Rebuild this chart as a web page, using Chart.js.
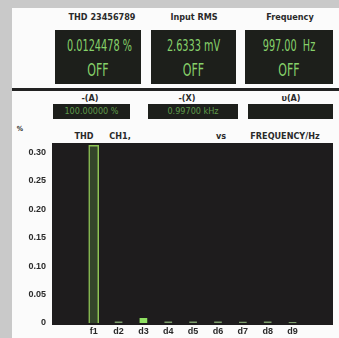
<!DOCTYPE html>
<html>
<head>
<meta charset="utf-8">
<script src="https://cdn.jsdelivr.net/npm/chart.js@4"></script>
<style>
  html, body { margin: 0; padding: 0; }
  body { width: 339px; height: 338px; background: #c9c9c9; position: relative; overflow: hidden;
         font-family: "DejaVu Sans Condensed", "DejaVu Sans", sans-serif; font-stretch: condensed; }
  #panel { position: absolute; left: 12px; top: 8px; width: 327px; height: 330px; background: #fbfbfb; }
  .t { position: absolute; font-size: 9px; font-weight: bold; color: #2a2a2a; white-space: nowrap; transform: translateX(-50%); }
  .box { position: absolute; background: #1d1f1b; color: #86d16a; text-align: center; overflow: hidden; }
  .big { font-size: 15px; line-height: 16px; transform: scaleX(0.72); white-space: nowrap; }
  .sm { font-size: 9px; line-height: 15px; }
  #rule { position: absolute; left: 12px; top: 88px; width: 327px; height: 3px; background: #222; }
  canvas { position: absolute; left: 0; top: 0; }
</style>
</head>
<body>
<div id="panel"></div>
<div class="t" style="left:102px;top:12px">THD 23456789</div>
<div class="t" style="left:194px;top:12px">Input RMS</div>
<div class="t" style="left:290px;top:12px">Frequency</div>
<div class="box" style="left:55px;top:30px;width:86px;height:54px">
  <div class="big" style="margin-top:8px">0.0124478 %</div><div class="big" style="margin-top:8px;font-size:17px">OFF</div></div>
<div class="box" style="left:151px;top:30px;width:85px;height:54px">
  <div class="big" style="margin-top:8px">2.6333 mV</div><div class="big" style="margin-top:8px;font-size:17px">OFF</div></div>
<div class="box" style="left:245px;top:30px;width:88px;height:54px">
  <div class="big" style="margin-top:8px">997.00 &nbsp;Hz</div><div class="big" style="margin-top:8px;font-size:17px">OFF</div></div>
<div id="rule"></div>
<div class="t" style="left:90px;top:93px">-(A)</div>
<div class="t" style="left:187px;top:93px">-(X)</div>
<div class="t" style="left:291px;top:93px">υ(A)</div>
<div class="box sm" style="left:53px;top:104px;width:77px;height:15px;color:#5f9a4a">100.00000 %</div>
<div class="box sm" style="left:148px;top:104px;width:90px;height:15px;color:#5f9a4a">0.99700 kHz</div>
<div class="box sm" style="left:248px;top:104px;width:85px;height:15px"></div>
<div class="t" style="left:20px;top:125px;font-size:7px">%</div>
<div class="t" style="left:84px;top:131px">THD</div>
<div class="t" style="left:120px;top:131px">CH1,</div>
<div class="t" style="left:221px;top:131px">vs</div>
<div class="t" style="left:285px;top:131px">FREQUENCY/Hz</div>
<canvas id="chart" width="339" height="338"></canvas>
<script>
const harmonics = ['f1', 'd2', 'd3', 'd4', 'd5', 'd6', 'd7', 'd8', 'd9'];
const thdValues = [0.312, 0.004, 0.011, 0.004, 0.004, 0.004, 0.003, 0.004, 0.002];
const yTicks = [0, 0.05, 0.10, 0.15, 0.20, 0.25, 0.30];

const barFill = harmonics.map((h, i) => i === 0 ? '#34452a' : (i === 2 ? '#8fe062' : '#7b9c6a'));
const barBorder = harmonics.map((h, i) => i === 0 ? '#8fc455' : 'rgba(0,0,0,0)');

const plotBg = {
  id: 'plotBg',
  beforeDraw(chart) {
    const a = chart.chartArea, c = chart.ctx;
    c.save();
    c.fillStyle = '#1e1c1d';
    c.fillRect(a.left, a.top, a.right - a.left, a.bottom - a.top);
    c.restore();
  }
};

new Chart(document.getElementById('chart'), {
  type: 'bar',
  data: {
    datasets: [{
      data: thdValues.map((v, i) => ({ x: i + 1, y: v })),
      backgroundColor: barFill,
      borderColor: barBorder,
      borderWidth: 1.5,
      barThickness: 10
    }]
  },
  options: {
    responsive: false,
    animation: false,
    layout: { padding: { left: 12, right: 6, top: 143, bottom: 0 } },
    plugins: { legend: { display: false }, tooltip: { enabled: false } },
    scales: {
      x: {
        type: 'linear',
        min: -0.05,
        max: 10,
        afterBuildTicks: s => { s.ticks = harmonics.map((h, i) => ({ value: i + 1 })); },
        afterFit: s => { s.height = 13; },
        grid: { display: false, drawTicks: false, tickLength: 0 },
        border: { display: false },
        ticks: {
          autoSkip: false, maxRotation: 0, padding: 1,
          color: '#2a2a2a', font: { size: 9, weight: 'bold' },
          callback: (v, i) => harmonics[i]
        }
      },
      y: {
        min: -0.0035,
        max: 0.316,
        afterBuildTicks: s => { s.ticks = yTicks.map(v => ({ value: v })); },
        afterFit: s => { s.width = 40; },
        grid: { display: false, drawTicks: false, tickLength: 0 },
        border: { display: false },
        ticks: {
          padding: 6,
          color: '#2a2a2a', font: { size: 9, weight: 'bold' },
          callback: v => v === 0 ? '0' : v.toFixed(2)
        }
      }
    }
  },
  plugins: [plotBg]
});
</script>
</body>
</html>
